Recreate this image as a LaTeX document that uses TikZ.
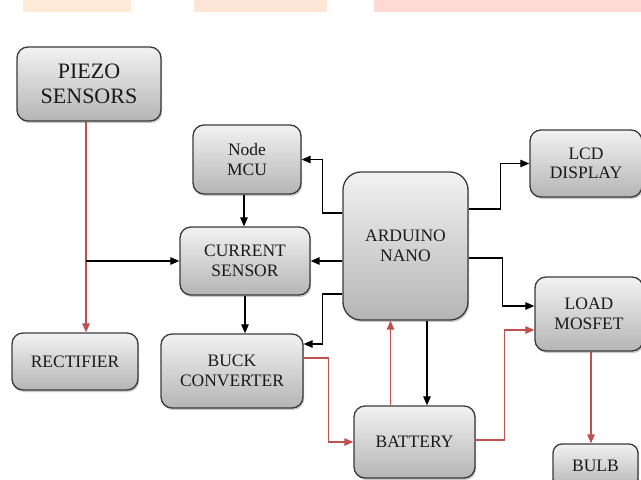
\documentclass[tikz,border=0pt]{standalone}
\usepackage{fontspec}
\setmainfont{Liberation Serif}
\usetikzlibrary{arrows.meta,shadows,calc}
\definecolor{boxtop}{HTML}{F2F2F2}
\definecolor{boxbot}{HTML}{B5B5B5}
\definecolor{boxline}{HTML}{3A3A3A}
\definecolor{redline}{HTML}{C0504D}
\definecolor{wmA}{HTML}{FDEBD8}
\definecolor{wmB}{HTML}{FDE6D8}
\definecolor{wmC}{HTML}{FFD9D3}
\tikzset{
  blk/.style={draw=boxline, line width=1.3pt, rounded corners=11pt,
    top color=boxtop, bottom color=boxbot, align=center, text=black!90,
    font=\fontsize{17.5}{19.5}\selectfont, inner sep=0pt,
    drop shadow={shadow xshift=1.2pt, shadow yshift=-2pt, opacity=0.35, fill=black!60}},
  blkarrow/.style={line width=1.2pt, draw=black, -{Triangle[length=9pt,width=7.5pt]}},
  redarrow/.style={line width=1.2pt, draw=redline, -{Triangle[length=9pt,width=7.5pt]}},
  redplain/.style={line width=1.2pt, draw=redline}
}
\begin{document}
\begin{tikzpicture}[x=1pt,y=-1pt]
\useasboundingbox (0,0) rectangle (641,480);
% watermark strips at the top
\fill[wmA] (23,0) rectangle (131,12);
\fill[wmB] (194,0) rectangle (327,12);
\fill[wmC] (374,0) rectangle (641,12);

% blocks
\node[blk, minimum width=144pt, minimum height=74pt, font=\fontsize{22}{24.5}\selectfont] (piezo) at (89,84) {PIEZO\\SENSORS};
\node[blk, minimum width=108pt, minimum height=69pt] (mcu) at (247,159.5) {Node\\MCU};
\node[blk, minimum width=130pt, minimum height=68pt] (cs) at (245,261) {CURRENT\\SENSOR};
\node[blk, minimum width=125pt, minimum height=148pt, rounded corners=18pt] (ard) at (405.5,246) {ARDUINO\\NANO};
\node[blk, minimum width=112pt, minimum height=67pt] (lcd) at (586,163.5) {LCD\\DISPLAY};
\node[blk, minimum width=108pt, minimum height=74pt] (mos) at (589,314) {LOAD\\MOSFET};
\node[blk, minimum width=126pt, minimum height=57pt] (rect) at (75,361.5) {RECTIFIER};
\node[blk, minimum width=142pt, minimum height=74pt] (buck) at (232,371) {BUCK\\CONVERTER};
\node[blk, minimum width=121pt, minimum height=72pt] (batt) at (414.5,442) {BATTERY};
\node[blk, minimum width=85pt, minimum height=44pt, rounded corners=9pt] (bulb) at (595.5,466) {BULB};

% connectors
\coordinate (pz) at ([xshift=-3pt]piezo.south);
\draw[redarrow] (pz) -- (pz |- rect.north);
\draw[blkarrow] (cs.west -| pz) -- (cs.west);

\draw[blkarrow] ([yshift=33pt]ard.west) -- ++(-20,0) |- (mcu.east);
\draw[blkarrow] (cs.east -| ard.west) -- (cs.east);
\draw[blkarrow] ([yshift=-48pt]ard.west) -- ++(-20,0) |- ([yshift=27pt]buck.east);

\draw[blkarrow] ([xshift=-3pt]mcu.south) -- ([xshift=-3pt]mcu.south |- cs.north);
\draw[blkarrow] (cs.south) -- (cs.south |- buck.north);

\draw[redarrow] ([yshift=13pt]buck.east) -- ++(25,0) |- (batt.west);
\draw[redarrow] ([xshift=-24pt]batt.north) -- ([xshift=-24pt]batt.north |- ard.south);
\draw[blkarrow] ([xshift=21.5pt]ard.south) -- ([xshift=21.5pt]ard.south |- batt.north);
\draw[redarrow] ([yshift=2pt]batt.east) -- ++(29,0) |- ([yshift=-16pt]mos.west);

\draw[blkarrow] ([yshift=37pt]ard.east) -- ++(32,0) |- (lcd.west);
\draw[blkarrow] ([yshift=-12pt]ard.east) -- ++(34,0) |- ([yshift=8pt]mos.west);

\draw[redarrow] ([xshift=2pt]mos.south) -- ([xshift=2pt]mos.south |- bulb.north);
\end{tikzpicture}
\end{document}
